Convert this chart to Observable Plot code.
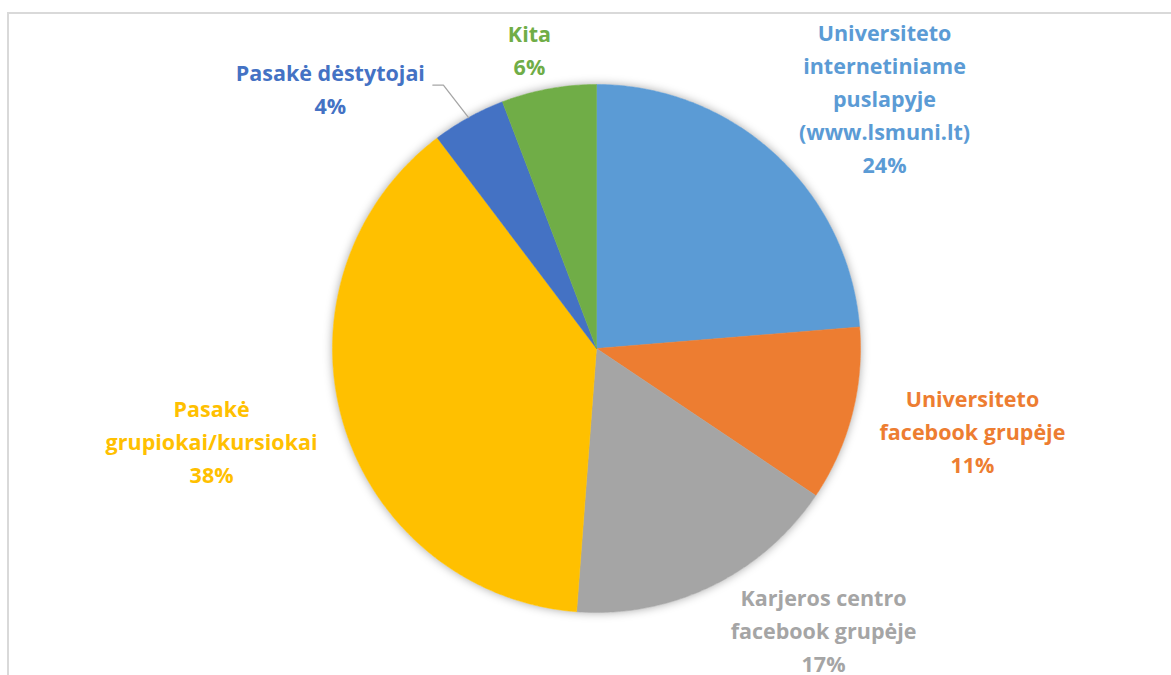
<!DOCTYPE html>
<html>
<head>
<meta charset="utf-8">
<script src="https://cdn.jsdelivr.net/npm/d3@7"></script>
<script src="https://cdn.jsdelivr.net/npm/@observablehq/plot@0.6"></script>
<style>
  html, body { margin: 0; padding: 0; background: #fff; }
  #wrap { position: relative; width: 1171px; height: 675px; overflow: hidden; }
  #frame { position: absolute; left: 7px; top: 12px; width: 1200px; height: 700px;
           border-left: 2px solid #d9d9d9; border-top: 2px solid #d9d9d9; box-sizing: border-box; }
  #chart { position: absolute; left: 0; top: 0; }
</style>
</head>
<body>
<div id="wrap"><div id="frame"></div><div id="chart"></div></div>
<script>
// ---- data ----
const categories = [
  "Universiteto\ninternetiniame\npuslapyje\n(www.lsmuni.lt)",
  "Universiteto\nfacebook grupėje",
  "Karjeros centro\nfacebook grupėje",
  "Pasakė\ngrupiokai/kursiokai",
  "Pasakė dėstytojai",
  "Kita"
];
const values = [23.7, 10.7, 16.8, 38.5, 4.5, 5.8];
const percentLabels = ["24%", "11%", "17%", "38%", "4%", "6%"];
const colors = ["#5B9BD5", "#ED7D31", "#A5A5A5", "#FFC000", "#4472C4", "#70AD47"];

// ---- layout (unit circle coordinates, radius = 1) ----
const labelPos = [
  [1.091, 0.955],
  [1.424, -0.307],
  [0.860, -1.062],
  [-1.458, -0.345],
  [-1.008, 0.989],
  [-0.254, 1.14]
];

const W = 1171, H = 675, CX = 596, CY = 348, R = 264;

const pie = d3.pie().sort(null).value(d => d)(values);
const slices = pie.map((p, i) => {
  const pts = [{x: 0, y: 0}];
  const n = Math.max(4, Math.ceil((p.endAngle - p.startAngle) / 0.01));
  for (let k = 0; k <= n; k++) {
    const a = p.startAngle + (p.endAngle - p.startAngle) * k / n;
    pts.push({x: Math.sin(a), y: Math.cos(a)});
  }
  pts.push({x: 0, y: 0});
  return pts;
});
const circle = d3.range(0, 361).map(d => ({x: Math.sin(d * Math.PI / 180), y: Math.cos(d * Math.PI / 180)}));

const labels = categories.map((c, i) => ({
  x: labelPos[i][0], y: labelPos[i][1], text: c + "\n" + percentLabels[i], color: colors[i]
}));

// leader line for the small slice "Pasakė dėstytojai"
const li = 4;
const mid = (pie[li].startAngle + pie[li].endAngle) / 2;
const leader = [
  {x: Math.sin(mid), y: Math.cos(mid)},
  {x: -0.58, y: 0.998},
  {x: -0.62, y: 0.998}
];

const marks = [
  Plot.line(circle, {x: "x", y: "y", fill: "white", stroke: "none"}),
  ...slices.map((s, i) => Plot.line(s, {x: "x", y: "y", fill: colors[i], stroke: colors[i], strokeWidth: 0.5, curve: "linear"})),
  Plot.line(leader, {x: "x", y: "y", stroke: "#a6a6a6", strokeWidth: 1.3}),
  Plot.text(labels, {
    x: "x", y: "y", text: "text", fill: "color",
    fontSize: 21.5, fontWeight: "bold", lineHeight: 1.535, lineAnchor: "middle", textAnchor: "middle"
  })
];

const chart = Plot.plot({
  width: W, height: H,
  margin: 0,
  x: {domain: [-CX / R, (W - CX) / R], axis: null},
  y: {domain: [(CY - H) / R, CY / R], axis: null},
  style: {fontFamily: "'Open Sans', Lato, sans-serif", background: "transparent", overflow: "visible"},
  marks
});
// soft shadow under the pie disc
const firstG = chart.querySelector("g[aria-label='line']");
if (firstG) firstG.setAttribute("style", "filter: drop-shadow(0px 0px 5px rgba(0,0,0,0.35))");
document.getElementById("chart").appendChild(chart);
</script>
</body>
</html>
